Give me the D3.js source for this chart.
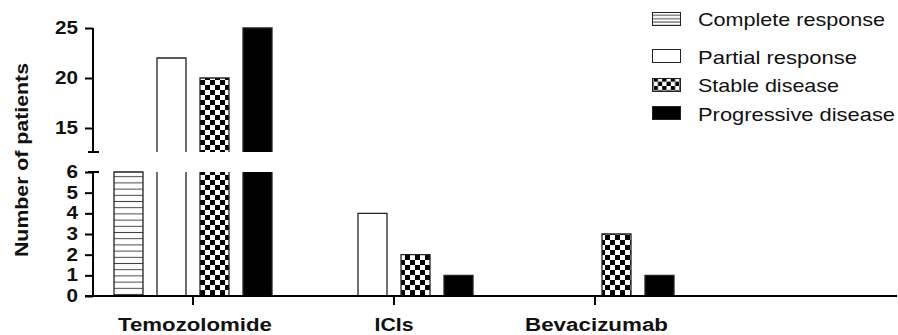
<!DOCTYPE html>
<html>
<head>
<meta charset="utf-8">
<script src="https://cdn.jsdelivr.net/npm/d3@7"></script>
<style>
  body { margin: 0; background: #fff; }
  text { font-family: "Liberation Sans", Arial, sans-serif; fill: #111; }
</style>
</head>
<body>
<div class="chart"></div>
<script>
// Données
const groups = ['Temozolomide', 'ICIs', 'Bevacizumab']
const seriesNames = ['Complete response', 'Partial response', 'Stable disease', 'Progressive disease']
const completeResponse = [6, 0, 0]
const partialResponse = [22, 4, 0]
const stableDisease = [20, 2, 3]
const progressiveDisease = [25, 1, 1]
const lowerTicks = [0, 1, 2, 3, 4, 5, 6]
const upperTicks = [15, 20, 25]

const seriesValues = [completeResponse, partialResponse, stableDisease, progressiveDisease]
const fills = ['url(#stripes)', '#fff', 'url(#checker)', '#000']
const legendFills = ['url(#stripesSmall)', '#fff', 'url(#checkerSmall)', '#000']

const width = 898,
    height = 335

const svg = d3.select('.chart')
    .append('svg')
    .attr('width', width)
    .attr('height', height)

// Motifs (hachures et damier)
const defs = svg.append('defs')
const addStripes = (id, step) => {
    const p = defs.append('pattern').attr('id', id)
        .attr('patternUnits', 'userSpaceOnUse')
        .attr('width', 10).attr('height', step)
    p.append('rect').attr('width', 10).attr('height', step).attr('fill', '#fff')
    p.append('line').attr('x1', 0).attr('x2', 10).attr('y1', step / 2).attr('y2', step / 2)
        .attr('stroke', '#444').attr('stroke-width', 1)
}
const addChecker = (id, c) => {
    const p = defs.append('pattern').attr('id', id)
        .attr('patternUnits', 'userSpaceOnUse')
        .attr('width', c * 2).attr('height', c * 2)
    p.append('rect').attr('width', c * 2).attr('height', c * 2).attr('fill', '#fff')
    p.append('rect').attr('width', c).attr('height', c).attr('fill', '#000')
    p.append('rect').attr('x', c).attr('y', c).attr('width', c).attr('height', c).attr('fill', '#000')
}
addStripes('stripes', 6.2)
addStripes('stripesSmall', 3.4)
addChecker('checker', 5)
addChecker('checkerSmall', 4.3)

// Échelles
const axisX = 93
const x = d3.scaleBand().domain(groups).range([92.5, 695.5])
const xSub = d3.scaleBand().domain(seriesNames).range([-79, 79]).paddingInner(0.326)
const yLow = d3.scaleLinear().domain([0, 6]).range([296, 172])
const yUp = d3.scaleLinear().domain([12.6, 25]).range([152, 28])
const center = g => x(g) + x.bandwidth() / 2

// Barres
const bars = []
groups.forEach((g, gi) => {
    seriesNames.forEach((s, si) => {
        bars.push({ group: g, series: s, si: si, value: seriesValues[si][gi] })
    })
})

const barG = svg.append('g')
bars.filter(d => d.value > 0).forEach(d => {
    const bx = center(d.group) + xSub(d.series)
    const bw = xSub.bandwidth()
    const lowTop = yLow(Math.min(d.value, 6))
    const bottom = yLow(0)
    barG.append('rect')
        .attr('x', bx).attr('y', lowTop)
        .attr('width', bw).attr('height', bottom - lowTop)
        .attr('fill', fills[d.si])
    const clipped = d.value > 6
    barG.append('path')
        .attr('d', clipped
            ? `M${bx},${bottom}V${lowTop}M${bx + bw},${lowTop}V${bottom}`
            : `M${bx},${bottom}V${lowTop}H${bx + bw}V${bottom}`)
        .attr('fill', 'none').attr('stroke', '#222').attr('stroke-width', 1.3)
    if (d.value > yUp.domain()[0]) {
        const upBottom = yUp(yUp.domain()[0])
        const upTop = yUp(d.value)
        barG.append('rect')
            .attr('x', bx).attr('y', upTop)
            .attr('width', bw).attr('height', upBottom - upTop)
            .attr('fill', fills[d.si])
        barG.append('path')
            .attr('d', `M${bx},${upBottom}V${upTop}H${bx + bw}V${upBottom}`)
            .attr('fill', 'none').attr('stroke', '#222').attr('stroke-width', 1.3)
    }
})

// Axes Y (deux segments)
const styleAxis = (sel) => {
    sel.select('.domain').remove()
    sel.selectAll('line').attr('stroke', '#000').attr('stroke-width', 2)
    sel.selectAll('text')
        .style('font-size', '17.5px').style('font-weight', 'bold')
        .attr('fill', '#000')
        .attr('textLength', d => String(d).length * 11.5)
        .attr('lengthAdjust', 'spacingAndGlyphs')
}
svg.append('g').attr('transform', `translate(${axisX},0)`)
    .call(d3.axisLeft(yLow).tickValues(lowerTicks).tickFormat(d3.format('d')).tickSize(8).tickPadding(7))
    .call(styleAxis)
svg.append('g').attr('transform', `translate(${axisX},0)`)
    .call(d3.axisLeft(yUp).tickValues(upperTicks).tickFormat(d3.format('d')).tickSize(8).tickPadding(7))
    .call(styleAxis)

const axisLines = svg.append('g').attr('stroke', '#000').attr('stroke-width', 2).attr('fill', 'none')
axisLines.append('path').attr('d', `M${axisX},${yLow(0)}V${yLow(6)}M${axisX - 5},${yLow(6)}H${axisX + 6}`)
axisLines.append('path').attr('d', `M${axisX},${yUp(25)}V${yUp(12.6)}M${axisX - 5},${yUp(12.6)}H${axisX + 6}`)

// Axe X
axisLines.append('path').attr('d', `M85,${yLow(0)}H897`)
groups.forEach(g => {
    axisLines.append('path').attr('d', `M${center(g)},${yLow(0)}V${yLow(0) + 9}`)
})
const xLabelLen = [154, 39, 143]
svg.append('g').selectAll('text')
    .data(groups)
    .join('text')
    .attr('x', (d, i) => center(d) + [2, 0, 1.5][i])
    .attr('y', 331)
    .attr('text-anchor', 'middle')
    .attr('textLength', (d, i) => xLabelLen[i])
    .attr('lengthAdjust', 'spacingAndGlyphs')
    .style('font-size', '17.5px').style('font-weight', 'bold')
    .text(d => d)

// Titre de l'axe Y
svg.append('text')
    .attr('transform', 'translate(28,160) rotate(-90)')
    .attr('text-anchor', 'middle')
    .attr('textLength', 194)
    .attr('lengthAdjust', 'spacingAndGlyphs')
    .style('font-size', '18.5px').style('font-weight', 'bold')
    .text('Number of patients')

// Légende
const legendY = [12.5, 49.5, 78.5, 106.5]
const legendBase = [26, 64, 92, 120.5]
const legendLen = [187, 159, 141, 197]
const legend = svg.append('g')
seriesNames.forEach((s, i) => {
    legend.append('rect')
        .attr('x', 652.5).attr('y', legendY[i])
        .attr('width', 28).attr('height', 13)
        .attr('fill', legendFills[i])
        .attr('stroke', '#222').attr('stroke-width', 1)
    legend.append('text')
        .attr('x', 698).attr('y', legendBase[i])
        .attr('textLength', legendLen[i])
        .attr('lengthAdjust', 'spacingAndGlyphs')
        .style('font-size', '18.5px')
        .text(s)
})
</script>
</body>
</html>
